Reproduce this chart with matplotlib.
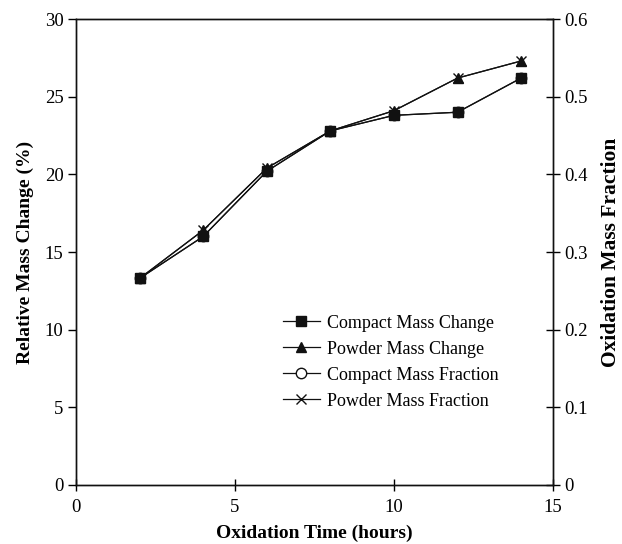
import matplotlib
matplotlib.use("Agg")
import matplotlib.pyplot as plt

plt.rcParams['font.family'] = ['Liberation Serif', 'DejaVu Serif']

# oxidation time, hours
hours = [2, 4, 6, 8, 10, 12, 14]

# relative mass change (%), left axis
compact_change = [13.3, 16.0, 20.2, 22.8, 23.8, 24.0, 26.2]
powder_change = [13.3, 16.4, 20.4, 22.8, 24.1, 26.2, 27.3]

# oxidation mass fraction, right axis
compact_fraction = [0.266, 0.320, 0.404, 0.456, 0.476, 0.480, 0.524]
powder_fraction = [0.266, 0.328, 0.408, 0.456, 0.482, 0.524, 0.546]

fig = plt.figure(figsize=(6.22, 5.44), dpi=100)
ax = fig.add_axes([0.1222, 0.1085, 0.7668, 0.8565])
ax2 = ax.twinx()

lw = 0.9
ms = 7.5
h1, = ax.plot(hours, compact_change, color='#111111', lw=lw, marker='s', ms=ms,
              label='Compact Mass Change')
h2, = ax.plot(hours, powder_change, color='#111111', lw=lw, marker='^', ms=ms,
              label='Powder Mass Change')
h3, = ax2.plot(hours, compact_fraction, color='#111111', lw=lw, marker='o', ms=ms,
               mfc='white', label='Compact Mass Fraction')
h4, = ax2.plot(hours, powder_fraction, color='#111111', lw=lw, marker='x', ms=ms,
               label='Powder Mass Fraction')
# keep the filled change markers on top of the fraction markers
ax.set_zorder(ax2.get_zorder() + 1)
ax.patch.set_visible(False)

ax.set_xlim(0, 15)
ax.set_ylim(0, 30)
ax2.set_ylim(0, 0.6)
ax.set_xticks([0, 5, 10, 15])
ax.set_yticks([0, 5, 10, 15, 20, 25, 30])
ax2.set_yticks([0, 0.1, 0.2, 0.3, 0.4, 0.5, 0.6])
ax2.set_yticklabels(['0', '0.1', '0.2', '0.3', '0.4', '0.5', '0.6'])

for a in (ax, ax2):
    for s in a.spines.values():
        s.set_linewidth(1.0)
        s.set_color('#111111')
ax.tick_params(axis='y', direction='out', length=6, width=1, labelsize=13.5, pad=3)
ax.tick_params(axis='x', direction='inout', length=8, width=1, labelsize=13.5, pad=6)
ax2.tick_params(axis='y', direction='inout', length=10, width=1, labelsize=13.5, pad=3)

ax.set_xlabel('Oxidation Time (hours)', fontsize=14, fontweight='bold', labelpad=6)
ax.set_ylabel('Relative Mass Change (%)', fontsize=14, fontweight='bold', labelpad=8)
ax2.set_ylabel('Oxidation Mass Fraction', fontsize=15.5, fontweight='bold', labelpad=10)

fig.legend(handles=[h1, h2, h3, h4], loc='upper left',
           bbox_to_anchor=(0.444, 0.435), frameon=False, fontsize=13,
           handlelength=2.0, handletextpad=0.4, labelspacing=0.5,
           borderaxespad=0)

fig.savefig('out.png', dpi=100)
